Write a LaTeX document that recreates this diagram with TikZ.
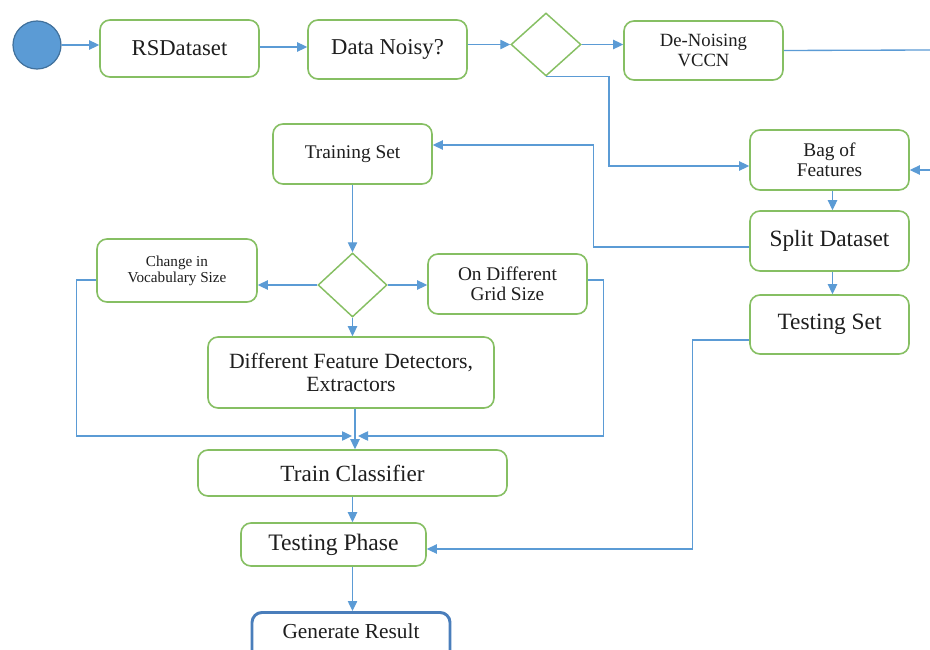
\documentclass[tikz,border=0pt]{standalone}
\usepackage{fontspec}
\setmainfont{Liberation Serif}
\usetikzlibrary{shapes.geometric,arrows.meta,calc}
\definecolor{gbord}{HTML}{86BF63}
\definecolor{conn}{HTML}{5B9BD5}
\definecolor{cfill}{HTML}{5B9BD5}
\definecolor{cbord}{HTML}{41719C}
\definecolor{genb}{HTML}{4A7EBB}
\definecolor{txt}{HTML}{1E1E1E}
\newcommand{\fs}[2]{\fontsize{#1}{#2}\selectfont}
\tikzset{
  gbox/.style={draw=gbord, line width=1.2pt, rounded corners=7.5pt, fill=white,
    align=center, text=txt, inner sep=2pt},
  dia/.style={draw=gbord, line width=1.1pt, shape=diamond, inner sep=0pt, fill=white},
  conline/.style={draw=conn, line width=1pt},
  arr/.style={conline, -{Triangle[length=7.5pt,width=7pt]}},
}
\begin{document}
\begin{tikzpicture}[x=0.75pt,y=-0.75pt]
\clip (0,0) rectangle (930,649);
\useasboundingbox (0,0) rectangle (930,649);
\fill[white] (0,0) rectangle (930,649);

% nodes
\node[circle, draw=cbord, fill=cfill, line width=0.9pt, minimum size=36pt, inner sep=0pt] (c) at (37,45) {};
\node[gbox, font=\fs{17}{18}, minimum width=119.25pt, minimum height=42.75pt] (rs) at (179.5,48.5) {RSDataset};
\node[gbox, font=\fs{17}{18}, minimum width=119.25pt, minimum height=44.25pt] (noisy) at (387.5,49.5) {Data Noisy?};
\node[dia, minimum width=52.5pt, minimum height=47.25pt] (d1) at (546,44.5) {};
\node[gbox, font=\fs{14}{14.5}, minimum width=119.25pt, minimum height=44.25pt] (den) at (703.5,50.5) {De-Noising\\VCCN};
\node[gbox, font=\fs{14.5}{15}, minimum width=119.25pt, minimum height=45pt] (bag) at (829.5,160) {Bag of\\Features};
\node[gbox, font=\fs{17.5}{18}, minimum width=119.25pt, minimum height=45pt] (split) at (829.5,241) {Split Dataset};
\node[gbox, font=\fs{17.5}{18}, minimum width=119.25pt, minimum height=44.25pt] (tst) at (829.5,324.5) {Testing Set};
\node[gbox, font=\fs{14.5}{15}, minimum width=119.25pt, minimum height=45pt] (trs) at (352.5,154) {Training Set};
\node[dia, minimum width=51.75pt, minimum height=48pt] (d2) at (352.5,285) {};
\node[gbox, font=\fs{11.4}{12}, minimum width=120pt, minimum height=47.25pt] (voc) at (177,270.5) {Change in\\Vocabulary Size};
\node[gbox, font=\fs{14.5}{15}, minimum width=119.25pt, minimum height=45pt] (grid) at (507.5,284) {On Different\\Grid Size};
\node[gbox, font=\fs{16.3}{16.8}, minimum width=214.5pt, minimum height=53.25pt] (feat) at (351,372.5) {Different Feature Detectors,\\Extractors};
\node[gbox, font=\fs{17.4}{18}, minimum width=231.75pt, minimum height=34.5pt] (trc) at (352.5,473) {Train Classifier};
\node[gbox, font=\fs{17.7}{18}, minimum width=138.75pt, minimum height=32.25pt] (tph) at (333.5,544.5) {Testing Phase};
\node[draw=genb, line width=2.2pt, rounded corners=7.5pt, fill=white, text=txt,
  minimum width=148.5pt, minimum height=37.5pt, anchor=north, inner sep=2pt] (gen) at (351,611) {};
\node[text=txt, anchor=base, inner sep=0pt, font=\fs{16}{17}] (gent) at (351,638) {Generate Result};

% connector end points
\coordinate (r1) at (930,50);
\coordinate (r2) at (930,170);
\coordinate (mgl) at (352,436);
\coordinate (mgr) at (358,436);
\coordinate (tps) at (tph.south -| trc.south);
\coordinate (fs4) at ($(feat.south)+(4,0)$);

% connectors
\draw[arr] (c.east) -- (c.east -| rs.west);
\draw[arr] ($(rs.east)+(0,-1.5)$) -- ($(noisy.west)+(0,-2.5)$);
\draw[arr] (d1.west -| noisy.east) -- (d1.west);
\draw[arr] (d1.east) -- (d1.east -| den.west);
\draw[conline] (den.east) -- (r1);
\draw[arr] (d1.south) -- ++(63,0) |- ($(bag.west)+(0,6)$);
\draw[arr] (r2) -- (r2 -| bag.east);
\draw[arr] ($(bag.south)+(3,0)$) -- ($(split.north)+(3,0)$);
\draw[arr] ($(split.west)+(0,6)$) -- ++(-156,0) |- ($(trs.east)+(0,-9)$);
\draw[arr] ($(split.south)+(3,0)$) -- ($(tst.north)+(3,0)$);
\draw[arr] ($(tst.west)+(0,15.5)$) -- ++(-57,0) |- ($(tph.east)+(0,4.5)$);
\draw[arr] (trs.south) -- (d2.north);
\draw[arr] (d2.west) -- (d2.west -| voc.east);
\draw[arr] (d2.east) -- (d2.east -| grid.west);
\draw[arr] (d2.south) -- (d2.south |- feat.north);
\draw[arr] ($(voc.west)+(0,9.5)$) -- ++(-20,0) |- (mgl);
\draw[arr] ($(grid.east)+(0,-4)$) -- ++(16,0) |- (mgr);
\draw[arr] (fs4) -- (fs4 |- trc.north);
\draw[arr] (trc.south) -- (trc.south |- tph.north);
\draw[arr] (tps) -- (tps |- gen.north);
\end{tikzpicture}
\end{document}
